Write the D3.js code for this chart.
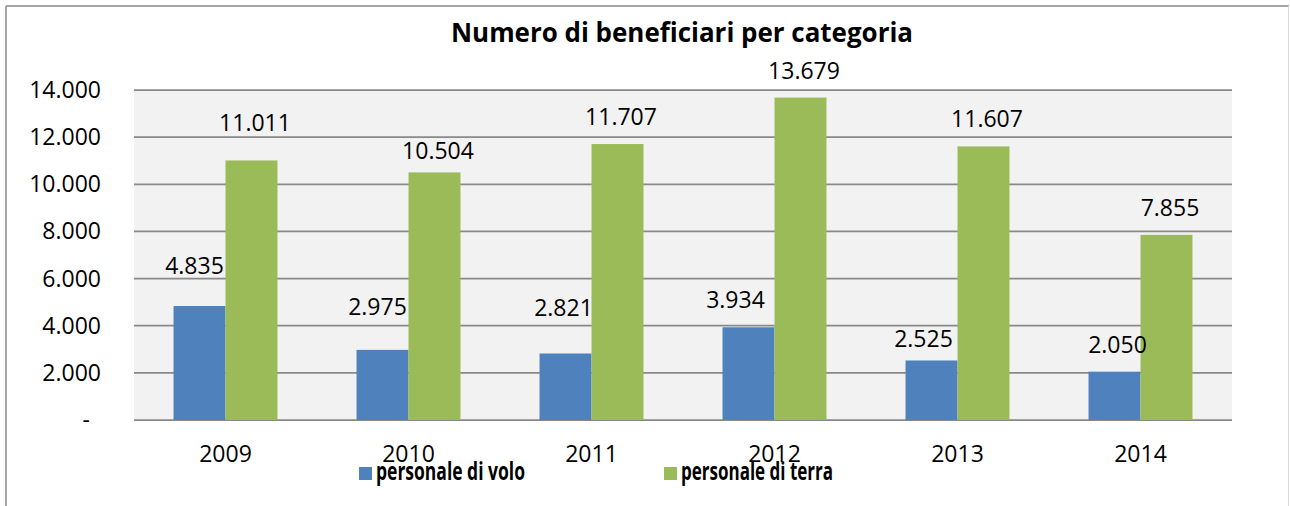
<!DOCTYPE html>
<html>
<head>
<meta charset="utf-8">
<script src="https://cdn.jsdelivr.net/npm/d3@7"></script>
<style>
  body { margin: 0; background: #fff; }
  text { font-family: "Open Sans", sans-serif; fill: #000; }
</style>
</head>
<body>
<script>
// data
const years = ["2009", "2010", "2011", "2012", "2013", "2014"];
const volo = [4835, 2975, 2821, 3934, 2525, 2050];
const terra = [11011, 10504, 11707, 13679, 11607, 7855];
const seriesNames = ["personale di volo", "personale di terra"];
const yTicks = [0, 2000, 4000, 6000, 8000, 10000, 12000, 14000];

const colors = ["#4f81bd", "#9bbb59"];

// label placement (px above bar top, px sideways) - labels were hand moved in the original
const gapVolo = [32, 35, 38, 19, 13, 19];
const gapTerra = [29, 13, 19, 19, 19, 19];
const shiftVolo = [-5, -5, -2, -13, -8, 3];
const shiftTerra = 3.5;

const width = 1290, height = 506;

const svg = d3.select('body').append('svg')
    .attr('width', width)
    .attr('height', height);

// outer frame
svg.append('line').attr('x1', 6).attr('x2', 6).attr('y1', 6).attr('y2', height)
    .attr('stroke', '#888').attr('stroke-width', 1.5);
svg.append('line').attr('x1', 6).attr('x2', 1289).attr('y1', 6).attr('y2', 6)
    .attr('stroke', '#888').attr('stroke-width', 1.5);
svg.append('line').attr('x1', 1288.5).attr('x2', 1288.5).attr('y1', 6).attr('y2', height)
    .attr('stroke', '#d9d9d9').attr('stroke-width', 1);

// scales
const x = d3.scaleBand()
    .domain(years)
    .range([134, 1232])
    .paddingInner(0.432)
    .paddingOuter(0.216);

const xs = d3.scaleBand()
    .domain([0, 1])
    .range([0, x.bandwidth()]);

const y = d3.scaleLinear()
    .domain([0, 14000])
    .range([420, 90]);

const fmt = v => v === 0 ? "-" : d3.format(",")(v).replace(/,/g, ".");

// plot background
svg.append('rect')
    .attr('x', 134).attr('y', y(14000))
    .attr('width', 1232 - 134).attr('height', y(0) - y(14000))
    .attr('fill', '#f2f2f2');

// gridlines
svg.append('g').selectAll('line')
    .data(yTicks)
    .enter()
    .append('line')
    .attr('x1', 134).attr('x2', 1232)
    .attr('y1', d => y(d)).attr('y2', d => y(d))
    .attr('stroke', '#898989')
    .attr('stroke-width', 1.75);

// y tick labels
svg.append('g').selectAll('text')
    .data(yTicks)
    .enter()
    .append('text')
    .attr('x', d => d === 0 ? 90 : 101)
    .attr('y', d => y(d) + 8)
    .attr('text-anchor', 'end')
    .style('font-size', '23px')
    .text(fmt);

// x tick labels
svg.append('g').selectAll('text')
    .data(years)
    .enter()
    .append('text')
    .attr('x', d => x(d) + x.bandwidth() / 2)
    .attr('y', 462)
    .attr('text-anchor', 'middle')
    .style('font-size', '23px')
    .text(d => d);

// bars
const series = [volo, terra];
series.forEach((vals, s) => {
    svg.append('g').selectAll('rect')
        .data(vals)
        .enter()
        .append('rect')
        .attr('x', (d, i) => x(years[i]) + xs(s))
        .attr('y', d => y(d))
        .attr('width', xs.bandwidth())
        .attr('height', d => y(0) - y(d))
        .attr('fill', colors[s]);
});

// value labels
svg.append('g').selectAll('text')
    .data(volo)
    .enter()
    .append('text')
    .attr('x', (d, i) => x(years[i]) + xs(0) + xs.bandwidth() / 2 + shiftVolo[i])
    .attr('y', (d, i) => y(d) - gapVolo[i])
    .attr('text-anchor', 'middle')
    .style('font-size', '23px')
    .text(fmt);

svg.append('g').selectAll('text')
    .data(terra)
    .enter()
    .append('text')
    .attr('x', (d, i) => x(years[i]) + xs(1) + xs.bandwidth() / 2 + shiftTerra)
    .attr('y', (d, i) => y(d) - gapTerra[i])
    .attr('text-anchor', 'middle')
    .style('font-size', '23px')
    .text(fmt);

// title
svg.append('text')
    .attr('x', 682)
    .attr('y', 42)
    .attr('text-anchor', 'middle')
    .attr('textLength', 462)
    .attr('lengthAdjust', 'spacingAndGlyphs')
    .style('font-size', '26px')
    .style('font-weight', 'bold')
    .text("Numero di beneficiari per categoria");

// legend
const legendX = [359, 664];
const legendW = [149, 152];
const legend = svg.append('g').selectAll('g')
    .data(seriesNames)
    .enter()
    .append('g');

legend.append('rect')
    .attr('x', (d, i) => legendX[i])
    .attr('y', 467)
    .attr('width', 13)
    .attr('height', 13)
    .attr('fill', (d, i) => colors[i]);

legend.append('text')
    .attr('x', (d, i) => legendX[i] + 17)
    .attr('y', 480)
    .attr('textLength', (d, i) => legendW[i])
    .attr('lengthAdjust', 'spacingAndGlyphs')
    .style('font-size', '25px')
    .style('font-weight', 'bold')
    .text(d => d);
</script>
</body>
</html>
